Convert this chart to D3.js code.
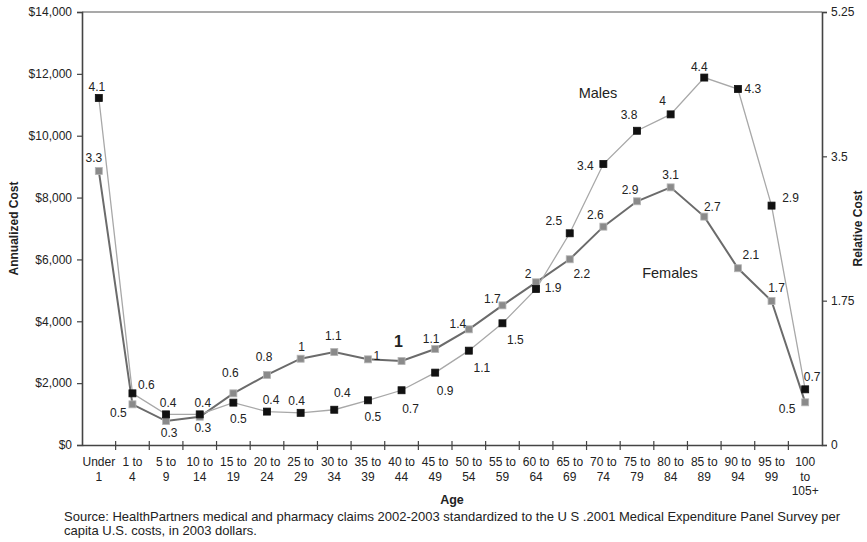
<!DOCTYPE html>
<html>
<head>
<meta charset="utf-8">
<script src="https://cdn.jsdelivr.net/npm/d3@7"></script>
<style>
	body { margin: 0; background: #fff; }
	svg { font-family: 'Liberation Sans', Arial, sans-serif; }
</style>
</head>
<body>
<div id="chart"></div>
<script>
const ageLabels = [
	['Under', '1'], ['1 to', '4'], ['5 to', '9'], ['10 to', '14'], ['15 to', '19'],
	['20 to', '24'], ['25 to', '29'], ['30 to', '34'], ['35 to', '39'], ['40 to', '44'],
	['45 to', '49'], ['50 to', '54'], ['55 to', '59'], ['60 to', '64'], ['65 to', '69'],
	['70 to', '74'], ['75 to', '79'], ['80 to', '84'], ['85 to', '89'], ['90 to', '94'],
	['95 to', '99'], ['100', 'to', '105+'],
];
const maleCost = [
	11220, 1670, 990, 990, 1370, 1080, 1040, 1140, 1445, 1770, 2340,
	3050, 3935, 5045, 6845, 9085, 10160, 10690, 11880, 11510, 7740, 1800,
];
const femaleCost = [
	8860, 1315, 775, 915, 1670, 2265, 2790, 3005, 2770, 2715, 3105,
	3740, 4515, 5260, 6005, 7060, 7880, 8330, 7385, 5715, 4655, 1380,
];
const maleRelative = [
	'4.1', '0.6', '0.4', '0.4', '0.5', '0.4', '0.4', '0.4', '0.5', '0.7', '0.9',
	'1.1', '1.5', '1.9', '2.5', '3.4', '3.8', '4', '4.4', '4.3', '2.9', '0.7',
];
const femaleRelative = [
	'3.3', '0.5', '0.3', '0.3', '0.6', '0.8', '1', '1.1', '1', '1', '1.1',
	'1.4', '1.7', '2', '2.2', '2.6', '2.9', '3.1', '2.7', '2.1', '1.7', '0.5',
];
const costTicks = [0, 2000, 4000, 6000, 8000, 10000, 12000, 14000];
const relativeTicks = [0, 1.75, 3.5, 5.25];

// label offsets from each marker, in px
const maleLabelOffset = [
	[-2, -11], [14, -9], [2, -12], [3, -12], [5, 16], [4, -12], [-4, -12], [8, -17], [5, 16], [9, 19], [10, 18],
	[13, 17], [13, 17], [17, -1], [-16, -12], [-18, 2], [-8, -16], [-8, -14], [-5, -11], [15, 0], [19, -8], [7, -13],
];
const femaleLabelOffset = [
	[-5, -13], [-14, 8], [3, 12], [3, 11], [-3, -21], [-3, -18], [1, -12], [-1, -16], [9, -4], [-3, -20], [-4, -10],
	[-11, -6], [-10, -7], [-8, -9], [12, 15], [-8, -12], [-7, -11], [0, -13], [8, -10], [13, -13], [5, -13], [-18, 6],
];

class CostChart {
	constructor({ element }) {
		this.element = element;
		this.width = 867;
		this.height = 542;
		this.margin = { top: 12, right: 45, bottom: 97, left: 82 };
		this.draw();
	}

	draw() {
		this.svg = d3.select(this.element).append('svg')
			.attr('width', this.width)
			.attr('height', this.height);

		this.createScales();
		this.addAxes();
		this.addLine(femaleCost, '#6b6b6b', 2);
		this.addLine(maleCost, '#a8a8a8', 1.3);
		this.addMarkers(femaleCost, '#8a8a8a', '#b5b5b5', 7);
		this.addMarkers(maleCost, '#111', '#111', 7);
		this.addLabels(maleCost, maleRelative, maleLabelOffset);
		this.addLabels(femaleCost, femaleRelative, femaleLabelOffset);
		this.addText();
	}

	createScales() {
		const m = this.margin;
		this.x = d3.scaleBand()
			.domain(ageLabels.map((d) => d.join(' ')))
			.range([m.left, this.width - m.right])
			.padding(0);
		this.y = d3.scaleLinear()
			.domain([0, 14000])
			.range([this.height - m.bottom, m.top]);
		this.y2 = d3.scaleLinear()
			.domain([0, 5.25])
			.range([this.height - m.bottom, m.top]);
	}

	addAxes() {
		const m = this.margin;
		const right = this.width - m.right;
		const bottom = this.height - m.bottom;

		// top frame line
		this.svg.append('line')
			.attr('x1', m.left).attr('x2', right)
			.attr('y1', m.top).attr('y2', m.top)
			.attr('stroke', '#555').attr('stroke-width', 1.2);

		const yAxis = this.svg.append('g')
			.attr('transform', `translate(${m.left},0)`)
			.call(d3.axisLeft(this.y).tickValues(costTicks).tickSize(5).tickPadding(5)
				.tickFormat((d) => '$' + d3.format(',')(d)));

		const y2Axis = this.svg.append('g')
			.attr('transform', `translate(${right},0)`)
			.call(d3.axisRight(this.y2).tickValues(relativeTicks).tickSize(5).tickPadding(4)
				.tickFormat((d) => String(d)));

		const xAxis = this.svg.append('g')
			.attr('transform', `translate(0,${bottom})`)
			.call(d3.axisBottom(this.x).tickSize(0).tickFormat(''));

		[yAxis, y2Axis, xAxis].forEach((g) => {
			g.select('.domain').attr('stroke', '#444').attr('stroke-width', 1.6);
			g.selectAll('.tick line').attr('stroke', '#444').attr('stroke-width', 1.2);
			g.selectAll('.tick text').attr('fill', '#222').style('font-size', '12px');
		});

		// ticks between age bands, crossing the axis
		xAxis.selectAll('.band-tick')
			.data(ageLabels.slice(1))
			.enter()
			.append('line')
			.attr('x1', (d) => this.x(d.join(' ')))
			.attr('x2', (d) => this.x(d.join(' ')))
			.attr('y1', -4)
			.attr('y2', 5)
			.attr('stroke', '#444')
			.attr('stroke-width', 1.2);

		const labels = xAxis.selectAll('.age-label')
			.data(ageLabels)
			.enter()
			.append('text')
			.attr('fill', '#222')
			.style('font-size', '12px')
			.attr('text-anchor', 'middle')
			.attr('transform', (d) => `translate(${this.x(d.join(' ')) + this.x.bandwidth() / 2},21)`);

		labels.selectAll('tspan')
			.data((d) => d)
			.enter()
			.append('tspan')
			.attr('x', 0)
			.attr('dy', (d, i) => (i === 0 ? 0 : 14.5))
			.text((d) => d);
	}

	addLine(values, color, width) {
		const line = d3.line()
			.x((d, i) => this.x(ageLabels[i].join(' ')) + this.x.bandwidth() / 2)
			.y((d) => this.y(d));
		this.svg.append('path')
			.datum(values)
			.attr('d', line)
			.attr('fill', 'none')
			.attr('stroke', color)
			.attr('stroke-width', width);
	}

	addMarkers(values, fill, stroke, size) {
		this.svg.append('g')
			.selectAll('rect')
			.data(values)
			.enter()
			.append('rect')
			.attr('x', (d, i) => this.x(ageLabels[i].join(' ')) + this.x.bandwidth() / 2 - size / 2)
			.attr('y', (d) => this.y(d) - size / 2)
			.attr('width', size)
			.attr('height', size)
			.attr('fill', fill)
			.attr('stroke', stroke)
			.attr('stroke-width', 0.8);
	}

	addLabels(values, texts, offsets) {
		this.svg.append('g')
			.selectAll('text')
			.data(values)
			.enter()
			.append('text')
			.attr('x', (d, i) => this.x(ageLabels[i].join(' ')) + this.x.bandwidth() / 2 + offsets[i][0])
			.attr('y', (d, i) => this.y(d) + offsets[i][1])
			.attr('dy', '0.35em')
			.attr('text-anchor', 'middle')
			.attr('fill', '#222')
			.style('font-size', (d, i) => (texts === femaleRelative && i === 9 ? '16px' : '12px'))
			.style('font-weight', (d, i) => (texts === femaleRelative && i === 9 ? 'bold' : 'normal'))
			.text((d, i) => texts[i]);
	}

	addText() {
		const m = this.margin;
		const midY = (m.top + this.height - m.bottom) / 2;

		this.svg.append('text')
			.attr('transform', `translate(18,${midY}) rotate(-90)`)
			.attr('text-anchor', 'middle')
			.style('font-size', '12px').style('font-weight', 'bold').attr('fill', '#222')
			.text('Annualized Cost');

		this.svg.append('text')
			.attr('transform', `translate(862,${midY}) rotate(-90)`)
			.attr('text-anchor', 'middle')
			.style('font-size', '12px').style('font-weight', 'bold').attr('fill', '#222')
			.text('Relative Cost');

		this.svg.append('text')
			.attr('x', (m.left + this.width - m.right) / 2)
			.attr('y', 504)
			.attr('text-anchor', 'middle')
			.style('font-size', '12.5px').style('font-weight', 'bold').attr('fill', '#222')
			.text('Age');

		this.svg.append('text')
			.attr('x', 598).attr('y', 98)
			.attr('text-anchor', 'middle')
			.style('font-size', '14.5px').attr('fill', '#222')
			.text('Males');

		this.svg.append('text')
			.attr('x', 670).attr('y', 278)
			.attr('text-anchor', 'middle')
			.style('font-size', '14.5px').attr('fill', '#222')
			.text('Females');

		const source = this.svg.append('text')
			.style('font-size', '13px').attr('fill', '#222');
		source.append('tspan').attr('x', 64).attr('y', 521)
			.text('Source: HealthPartners medical and pharmacy claims 2002-2003 standardized to the U S .2001 Medical Expenditure Panel Survey per');
		source.append('tspan').attr('x', 64).attr('y', 535)
			.text('capita U.S. costs, in 2003 dollars.');
	}
}

new CostChart({ element: document.getElementById('chart') });
</script>
</body>
</html>
